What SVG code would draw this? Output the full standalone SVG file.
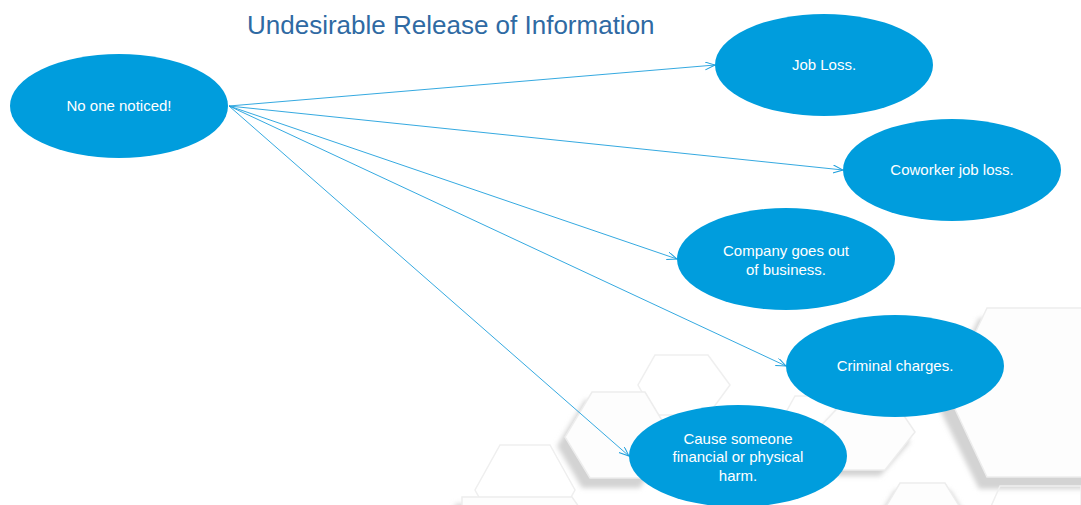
<svg xmlns="http://www.w3.org/2000/svg" width="1081" height="505" viewBox="0 0 1081 505">
  <style>
    .hexs { fill: #d3d3d3; filter: url(#blur); }
    .hexw { fill: #fdfdfd; stroke: #ededed; stroke-width: 1.5; }
    .hexo { fill: none; stroke: #efefef; stroke-width: 1.5; }
    .node { fill: #009ddd; }
    .lbl { fill: #ffffff; font-family: "Liberation Sans", Arial, sans-serif; font-size: 15px; text-anchor: middle; }
    .edge { stroke: #1e9fdc; stroke-width: 0.9; fill: none; marker-end: url(#arr); }
    .title { fill: #2f6aa3; font-family: "Liberation Sans", Arial, sans-serif; font-size: 26px; }
  </style>
  <defs>
    <filter id="blur" x="-20%" y="-20%" width="140%" height="140%">
      <feGaussianBlur stdDeviation="2.5"/>
    </filter>
    <marker id="arr" markerUnits="userSpaceOnUse" markerWidth="12" markerHeight="10" refX="10" refY="4" orient="auto">
      <path d="M0,0 L10,4 L0,8" fill="none" stroke="#1e9fdc" stroke-width="1"/>
    </marker>
  </defs>
  <rect width="1081" height="505" fill="#ffffff"/>

  <g id="background">
    <polygon class="hexo" points="655,355 708,355 730,385 708,415 655,415 638,385"/>
    <polygon class="hexo" points="500,445 550,445 575,490 550,535 500,535 475,490"/>
    <polygon class="hexo" points="795,396 830,396 850,432 830,470 795,470 775,432"/>
    <polygon class="hexs" points="979,318 1090,318 1090,489 979,489 937,404"/>
    <polygon class="hexw" points="987,308 1090,308 1090,477 987,477 947,392"/>
    <polygon class="hexs" points="585,400 640,400 666,446 640,488 582,488 557,446"/>
    <polygon class="hexw" points="592,392 645,392 672,437 645,478 590,478 565,437"/>
    <polygon class="hexs" points="843,405 885,405 910,442 880,476 836,476 810,442"/>
    <polygon class="hexw" points="850,395 890,395 915,432 885,470 840,470 815,432"/>
    <polygon class="hexs" points="455,504 568,504 590,540 455,540"/>
    <polygon class="hexw" points="462,497 572,497 595,530 462,530"/>
    <polygon class="hexs" points="895,490 950,490 975,530 870,530"/>
    <polygon class="hexw" points="900,483 945,483 968,520 878,520"/>
    <polygon class="hexo" points="1000,486 1081,486 1081,520 985,520"/>
  </g>

  <text class="title" x="247" y="34">Undesirable Release of Information</text>

  <g id="connectors">
    <line class="edge" x1="229" y1="106" x2="715" y2="65"/>
    <line class="edge" x1="229" y1="106" x2="843" y2="170"/>
    <line class="edge" x1="229" y1="106" x2="677" y2="259"/>
    <line class="edge" x1="229" y1="106" x2="786" y2="366"/>
    <line class="edge" x1="229" y1="106" x2="629" y2="456"/>
  </g>

  <g id="n-noone">
    <ellipse class="node" cx="119" cy="106" rx="109" ry="52"/>
    <text class="lbl" x="119" y="111">No one noticed!</text>
  </g>
  <g id="n-jobloss">
    <ellipse class="node" cx="824" cy="65" rx="109" ry="51"/>
    <text class="lbl" x="824" y="70">Job Loss.</text>
  </g>
  <g id="n-coworker">
    <ellipse class="node" cx="952" cy="170" rx="109" ry="51"/>
    <text class="lbl" x="952" y="175">Coworker job loss.</text>
  </g>
  <g id="n-company">
    <ellipse class="node" cx="786" cy="259" rx="109" ry="51"/>
    <text class="lbl" x="786" y="256">Company goes out</text>
    <text class="lbl" x="786" y="275">of business.</text>
  </g>
  <g id="n-criminal">
    <ellipse class="node" cx="895" cy="366" rx="109" ry="51"/>
    <text class="lbl" x="895" y="371">Criminal charges.</text>
  </g>
  <g id="n-harm">
    <ellipse class="node" cx="738" cy="456" rx="109" ry="51"/>
    <text class="lbl" x="738" y="444">Cause someone</text>
    <text class="lbl" x="738" y="462">financial or physical</text>
    <text class="lbl" x="738" y="481">harm.</text>
  </g>
</svg>
